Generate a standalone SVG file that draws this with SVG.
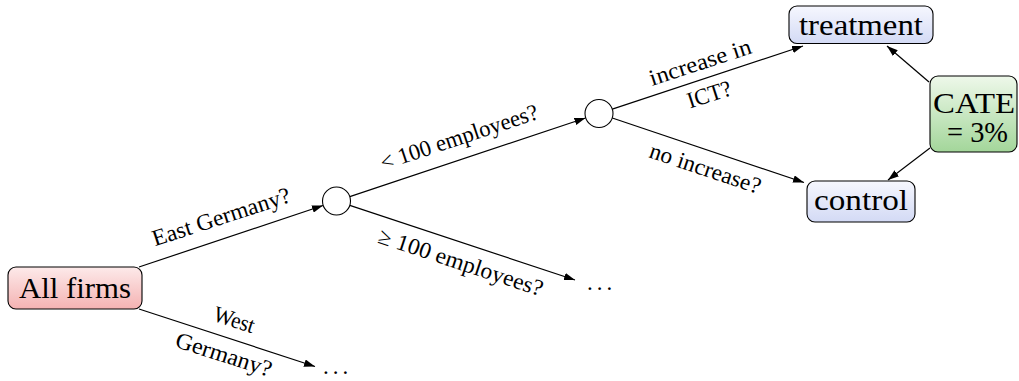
<svg xmlns="http://www.w3.org/2000/svg" width="1019" height="381" viewBox="0 0 1019 381">
  <defs>
    <linearGradient id="gRed" x1="0" y1="0" x2="0" y2="1">
      <stop offset="0" stop-color="#fdeaea"/>
      <stop offset="1" stop-color="#f4b2b2"/>
    </linearGradient>
    <linearGradient id="gBlue" x1="0" y1="0" x2="0" y2="1">
      <stop offset="0" stop-color="#f6f7fe"/>
      <stop offset="1" stop-color="#d3daf5"/>
    </linearGradient>
    <linearGradient id="gGreen" x1="0" y1="0" x2="0" y2="1">
      <stop offset="0" stop-color="#eef8ea"/>
      <stop offset="1" stop-color="#a3d69a"/>
    </linearGradient>
    <marker id="arr" viewBox="0 0 11 7.5" refX="11" refY="3.75" markerWidth="11" markerHeight="7.5" markerUnits="userSpaceOnUse" orient="auto">
      <path d="M0,0 L11,3.75 L0,7.5 z" fill="#000"/>
    </marker>
  </defs>
  <style>
    .box { stroke: #000; stroke-width: 1.1; }
    .split { fill: #fff; stroke: #000; stroke-width: 1.1; }
    .edge { stroke: #000; stroke-width: 1.2; fill: none; marker-end: url(#arr); }
    .node-text { font-family: "Liberation Serif", "DejaVu Serif", serif; font-size: 29px; fill: #000; text-anchor: middle; }
    .label { font-family: "Liberation Serif", "DejaVu Serif", serif; font-size: 23px; fill: #000; text-anchor: middle; }
    .dots { font-family: "Liberation Serif", "DejaVu Serif", serif; font-size: 23px; fill: #000; letter-spacing: 4px; }
  </style>

  <!-- connectors -->
  <g id="connectors">
    <line class="edge" x1="139" y1="267" x2="323" y2="205.5"/>
    <line class="edge" x1="139" y1="309" x2="315" y2="366.5"/>
    <line class="edge" x1="349.8" y1="196.6" x2="585.5" y2="118"/>
    <line class="edge" x1="349.8" y1="205.4" x2="575" y2="280"/>
    <line class="edge" x1="612.3" y1="109.1" x2="803" y2="46"/>
    <line class="edge" x1="612.3" y1="118" x2="804" y2="182.5"/>
    <line class="edge" x1="929" y1="82" x2="887" y2="46"/>
    <line class="edge" x1="930" y1="148" x2="888" y2="180"/>
  </g>

  <!-- edge labels -->
  <g id="edge-labels">
    <text class="label" transform="translate(223.5,224) rotate(-18.1)" textLength="144" lengthAdjust="spacingAndGlyphs">East Germany?</text>
    <text class="label" transform="translate(461.5,144.4) rotate(-18.4)" textLength="165" lengthAdjust="spacingAndGlyphs">&lt; 100 employees?</text>
    <text class="label" transform="translate(458.5,269.4) rotate(18.3)" textLength="172" lengthAdjust="spacingAndGlyphs">≥ 100 employees?</text>
    <text class="label" transform="translate(702.5,69.5) rotate(-18.1)" textLength="106" lengthAdjust="spacingAndGlyphs">increase in</text>
    <text class="label" transform="translate(711.5,101.6) rotate(-18.1)" textLength="45" lengthAdjust="spacingAndGlyphs">ICT?</text>
    <text class="label" transform="translate(232,327) rotate(17.7)" textLength="42" lengthAdjust="spacingAndGlyphs">West</text>
    <text class="label" transform="translate(221.5,361.7) rotate(17.7)" textLength="100" lengthAdjust="spacingAndGlyphs">Germany?</text>
    <text class="label" transform="translate(703,175.6) rotate(18.6)" textLength="116" lengthAdjust="spacingAndGlyphs">no increase?</text>
    <text class="dots" x="587" y="290">...</text>
    <text class="dots" x="323" y="374">...</text>
  </g>

  <g id="all-firms">
    <rect class="box" x="8" y="267" width="134" height="42" rx="8" fill="url(#gRed)"/>
    <text class="node-text" x="75" y="298" textLength="112" lengthAdjust="spacingAndGlyphs">All firms</text>
  </g>

  <g id="split-region">
    <circle class="split" cx="336.5" cy="201" r="14"/>
  </g>

  <g id="split-size">
    <circle class="split" cx="599" cy="113.5" r="14"/>
  </g>

  <g id="treatment">
    <rect class="box" x="789" y="6" width="144" height="37.5" rx="8" fill="url(#gBlue)"/>
    <text class="node-text" x="861" y="35" textLength="124" lengthAdjust="spacingAndGlyphs">treatment</text>
  </g>

  <g id="control">
    <rect class="box" x="807" y="181" width="108" height="41" rx="8" fill="url(#gBlue)"/>
    <text class="node-text" x="861" y="210" textLength="94" lengthAdjust="spacingAndGlyphs">control</text>
  </g>

  <g id="cate">
    <rect class="box" x="930" y="76" width="87" height="76" rx="8" fill="url(#gGreen)"/>
    <text class="node-text" x="974" y="113" textLength="82" lengthAdjust="spacingAndGlyphs">CATE</text>
    <text class="node-text" x="977.5" y="142" textLength="61" lengthAdjust="spacingAndGlyphs">= 3%</text>
  </g>
</svg>
